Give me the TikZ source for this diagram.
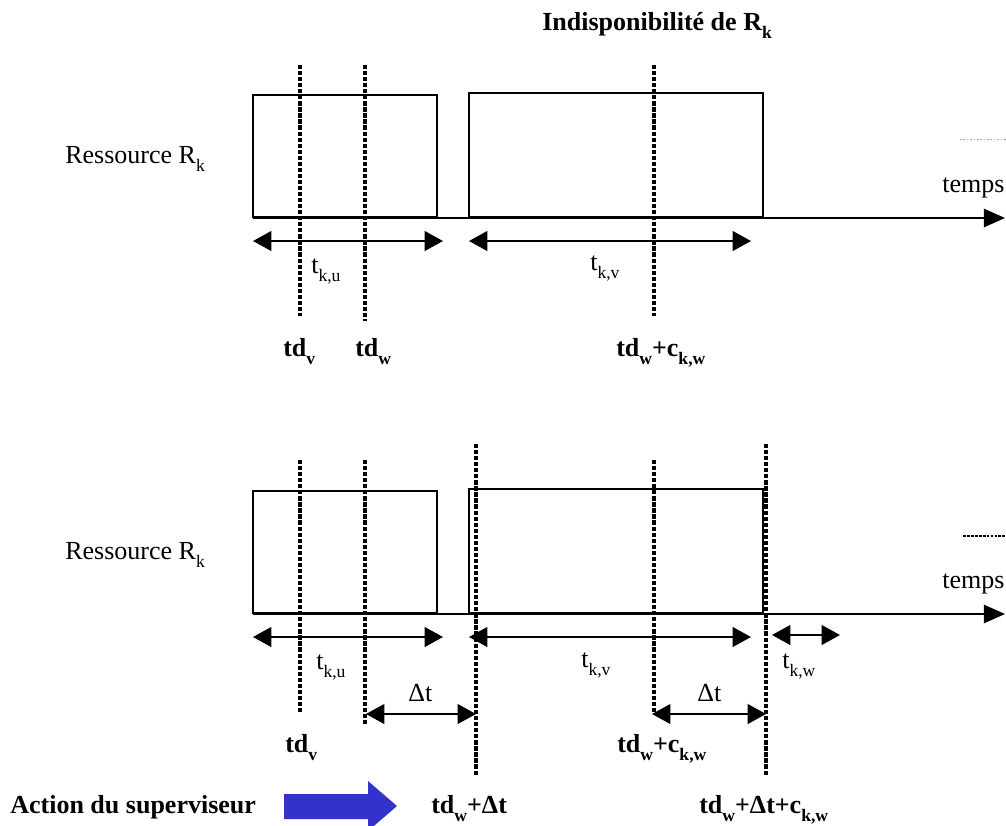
\documentclass[tikz,border=0pt]{standalone}
\usepackage{fontspec}
\setmainfont{Liberation Serif}
\usetikzlibrary{arrows.meta}
\definecolor{supBlue}{RGB}{51,51,204}
\newcommand{\lowtxt}[1]{\raisebox{-.32em}{\fontsize{12.5}{14}\selectfont #1}}

\begin{document}
\begin{tikzpicture}[x=0.025cm, y=-0.025cm, font=\fontsize{18.5}{22}\selectfont,
  dotline/.style={line width=2.8pt, dash pattern=on 3pt off 1.3pt},
  dim/.style={line width=1.2pt, {Triangle[length=13pt,width=14pt]}-{Triangle[length=13pt,width=14pt]}},
  lbl/.style={anchor=base west, inner sep=0pt}]
\useasboundingbox (0,0) rectangle (1006,825);
% both panels: boxes, time axis, durations
\foreach \p/\dy in {a/0, b/396}{
  \begin{scope}[shift={(0,\dy)}]
    \draw[line width=1.3pt] (253,95) rectangle (437,217);
    \draw[line width=1.3pt] (469,93) rectangle (763,217);
    \coordinate (ax0-\p) at (253,218);
    \coordinate (ax1-\p) at (1005,218);
    \draw[line width=1.4pt, -{Triangle[length=15pt,width=13pt]}] (ax0-\p) -- (ax1-\p);
    \node[lbl] (res-\p) at (65,163) {Ressource R\lowtxt{k}};
    \node[lbl] (temps-\p) at (942,192) {temps};
    \coordinate (u0-\p) at (253,241);
    \coordinate (u1-\p) at (443,241);
    \coordinate (v0-\p) at (469,241);
    \coordinate (v1-\p) at (751,241);
    \draw[dim] (u0-\p) -- (u1-\p);
    \draw[dim] (v0-\p) -- (v1-\p);
  \end{scope}
}
% top panel
\foreach \x/\e in {300/316, 365/321, 654/316}
  \draw[dotline] (\x,65) -- (\x,\e);
\draw[gray!70, line width=0.6pt, dash pattern=on 1.2pt off 1.2pt] (960,139) -- (1006,139);
\node[lbl] (titre) at (542,30) {\textbf{Indisponibilité de R\lowtxt{k}}};
\node[lbl] (tku-a) at (311,273) {t\lowtxt{k,u}};
\node[lbl] (tkv-a) at (590,270) {t\lowtxt{k,v}};
\node[lbl] (tdv-a) at (283,356) {\textbf{td\lowtxt{v}}};
\node[lbl] (tdw-a) at (355,356) {\textbf{td\lowtxt{w}}};
\node[lbl] (tdwc-a) at (616,356) {\textbf{td\lowtxt{w}+c\lowtxt{k,w}}};
% bottom panel
\foreach \x/\s/\e in {300/460/712, 365/460/726, 476/444/775, 654/460/712, 766/444/775}
  \draw[dotline] (\x,\s) -- (\x,\e);
\draw[line width=1.6pt, dash pattern=on 2pt off 0.8pt] (963,536) -- (1006,536);
\coordinate (w0) at (772,635);
\coordinate (w1) at (840,635);
\draw[dim] (w0) -- (w1);
\coordinate (d0) at (366,714);
\coordinate (d1) at (476,714);
\coordinate (d2) at (652,714);
\coordinate (d3) at (766,714);
\draw[dim] (d0) -- (d1);
\draw[dim] (d2) -- (d3);
\node[lbl] (tku-b) at (316,669) {t\lowtxt{k,u}};
\node[lbl] (tkv-b) at (581,667) {t\lowtxt{k,v}};
\node[lbl] (tkw-b) at (782,668) {t\lowtxt{k,w}};
\node[lbl] (dt1) at (408,701) {Δt};
\node[lbl] (dt2) at (697,701) {Δt};
\node[lbl] (tdv-b) at (285,752) {\textbf{td\lowtxt{v}}};
\node[lbl] (tdwc-b) at (617,752) {\textbf{td\lowtxt{w}+c\lowtxt{k,w}}};
\node[lbl] (tdwd) at (431,813) {\textbf{td\lowtxt{w}+Δt}};
\node[lbl] (tdwdc) at (699,813) {\textbf{td\lowtxt{w}+Δt+c\lowtxt{k,w}}};
% supervisor
\node[lbl] (action) at (10,813) {\textbf{Action du superviseur}};
\fill[supBlue] (284,794) -- (368,794) -- (368,781) -- (397,806) -- (368,831) -- (368,819) -- (284,819) -- cycle;
\end{tikzpicture}
\end{document}
